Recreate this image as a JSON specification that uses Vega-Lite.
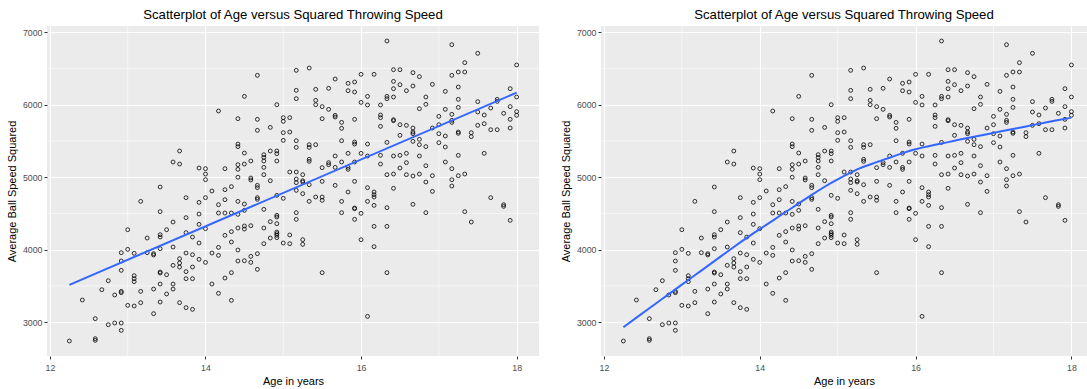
{
  "$schema": "https://vega.github.io/schema/vega-lite/v6.json",
  "background": "white",
  "padding": {"left": 6, "top": 7, "right": 0, "bottom": 0},
  "config": {
    "view": {"fill": "#EBEBEB", "stroke": null},
    "font": "Liberation Sans",
    "axis": {
      "domain": false,
      "grid": true,
      "gridColor": "#FFFFFF",
      "gridWidth": 1.1,
      "tickColor": "#333333",
      "tickSize": 3,
      "tickWidth": 1,
      "labelColor": "#4D4D4D",
      "labelFontSize": 8.8,
      "labelFont": "Liberation Sans",
      "titleFont": "Liberation Sans",
      "titleFontSize": 11,
      "titleFontWeight": "normal",
      "titleColor": "#000000",
      "format": "d"
    },
    "axisX": {"labelPadding": 4, "titlePadding": 4},
    "axisY": {"labelPadding": 2, "titlePadding": 5},
    "title": {"font": "Liberation Sans", "fontSize": 13.2, "fontWeight": "normal", "color": "#000000", "anchor": "middle", "offset": 4},
    "concat": {"spacing": 20}
  },
  "datasets": {
    "minorX": [{"age": 13}, {"age": 15}, {"age": 17}],
    "minorY": [{"speed": 3500}, {"speed": 4500}, {"speed": 5500}, {"speed": 6500}],
    "throws": [
      {"age": 12.25, "speed": 2740},
      {"age": 12.417, "speed": 3306},
      {"age": 12.583, "speed": 3048}, {"age": 12.583, "speed": 2772}, {"age": 12.583, "speed": 2749},
      {"age": 12.667, "speed": 3448},
      {"age": 12.75, "speed": 3572}, {"age": 12.75, "speed": 2965},
      {"age": 12.833, "speed": 3375}, {"age": 12.833, "speed": 2988},
      {"age": 12.917, "speed": 3959}, {"age": 12.917, "speed": 3844}, {"age": 12.917, "speed": 3715}, {"age": 12.917, "speed": 3425}, {"age": 12.917, "speed": 3407}, {"age": 12.917, "speed": 2988}, {"age": 12.917, "speed": 2887},
      {"age": 13, "speed": 4276}, {"age": 13, "speed": 4005}, {"age": 13, "speed": 3232},
      {"age": 13.083, "speed": 3950}, {"age": 13.083, "speed": 3641}, {"age": 13.083, "speed": 3600}, {"age": 13.083, "speed": 3559}, {"age": 13.083, "speed": 3223},
      {"age": 13.167, "speed": 4667}, {"age": 13.167, "speed": 3425}, {"age": 13.167, "speed": 3269},
      {"age": 13.25, "speed": 4161}, {"age": 13.25, "speed": 3959},
      {"age": 13.333, "speed": 3945}, {"age": 13.333, "speed": 3927}, {"age": 13.333, "speed": 3457}, {"age": 13.333, "speed": 3117},
      {"age": 13.417, "speed": 4865}, {"age": 13.417, "speed": 4525}, {"age": 13.417, "speed": 4207}, {"age": 13.417, "speed": 4175}, {"age": 13.417, "speed": 4014}, {"age": 13.417, "speed": 3692}, {"age": 13.417, "speed": 3678}, {"age": 13.417, "speed": 3526}, {"age": 13.417, "speed": 3278},
      {"age": 13.5, "speed": 4276}, {"age": 13.5, "speed": 3655}, {"age": 13.5, "speed": 3389},
      {"age": 13.583, "speed": 5210}, {"age": 13.583, "speed": 4382}, {"age": 13.583, "speed": 4037}, {"age": 13.583, "speed": 3784}, {"age": 13.583, "speed": 3526}, {"age": 13.583, "speed": 3457},
      {"age": 13.667, "speed": 5362}, {"age": 13.667, "speed": 5182}, {"age": 13.667, "speed": 3876}, {"age": 13.667, "speed": 3816}, {"age": 13.667, "speed": 3760}, {"age": 13.667, "speed": 3269},
      {"age": 13.75, "speed": 4718}, {"age": 13.75, "speed": 4442}, {"age": 13.75, "speed": 4235}, {"age": 13.75, "speed": 3954}, {"age": 13.75, "speed": 3697}, {"age": 13.75, "speed": 3600}, {"age": 13.75, "speed": 3200},
      {"age": 13.833, "speed": 4175}, {"age": 13.833, "speed": 3931}, {"age": 13.833, "speed": 3761}, {"age": 13.833, "speed": 3600}, {"age": 13.833, "speed": 3177},
      {"age": 13.917, "speed": 5127}, {"age": 13.917, "speed": 4653}, {"age": 13.917, "speed": 4492}, {"age": 13.917, "speed": 4350}, {"age": 13.917, "speed": 4092}, {"age": 13.917, "speed": 3867},
      {"age": 14, "speed": 5118}, {"age": 14, "speed": 5044}, {"age": 14, "speed": 4966}, {"age": 14, "speed": 4718}, {"age": 14, "speed": 4290}, {"age": 14, "speed": 3825},
      {"age": 14.083, "speed": 4810}, {"age": 14.083, "speed": 3954}, {"age": 14.083, "speed": 3526},
      {"age": 14.167, "speed": 5914}, {"age": 14.167, "speed": 4621}, {"age": 14.167, "speed": 4506}, {"age": 14.167, "speed": 4032}, {"age": 14.167, "speed": 3922}, {"age": 14.167, "speed": 3398},
      {"age": 14.25, "speed": 5118}, {"age": 14.25, "speed": 4828}, {"age": 14.25, "speed": 4690}, {"age": 14.25, "speed": 4506}, {"age": 14.25, "speed": 4198}, {"age": 14.25, "speed": 3609},
      {"age": 14.333, "speed": 4870}, {"age": 14.333, "speed": 4506}, {"age": 14.333, "speed": 4249}, {"age": 14.333, "speed": 4106}, {"age": 14.333, "speed": 3683}, {"age": 14.333, "speed": 3301},
      {"age": 14.417, "speed": 5808}, {"age": 14.417, "speed": 5458}, {"age": 14.417, "speed": 5422}, {"age": 14.417, "speed": 5173}, {"age": 14.417, "speed": 5109}, {"age": 14.417, "speed": 5000}, {"age": 14.417, "speed": 4667}, {"age": 14.417, "speed": 4488}, {"age": 14.417, "speed": 4299}, {"age": 14.417, "speed": 3996}, {"age": 14.417, "speed": 3844},
      {"age": 14.5, "speed": 6116}, {"age": 14.5, "speed": 5334}, {"age": 14.5, "speed": 5182}, {"age": 14.5, "speed": 4630}, {"age": 14.5, "speed": 4543}, {"age": 14.5, "speed": 4327}, {"age": 14.5, "speed": 4285}, {"age": 14.5, "speed": 3848},
      {"age": 14.583, "speed": 5224}, {"age": 14.583, "speed": 4989}, {"age": 14.583, "speed": 4962}, {"age": 14.583, "speed": 4331}, {"age": 14.583, "speed": 3908}, {"age": 14.583, "speed": 3825},
      {"age": 14.667, "speed": 6406}, {"age": 14.667, "speed": 5799}, {"age": 14.667, "speed": 5647}, {"age": 14.667, "speed": 4888}, {"age": 14.667, "speed": 4856}, {"age": 14.667, "speed": 4718}, {"age": 14.667, "speed": 4695}, {"age": 14.667, "speed": 3945}, {"age": 14.667, "speed": 3729},
      {"age": 14.75, "speed": 5311}, {"age": 14.75, "speed": 5274}, {"age": 14.75, "speed": 5224}, {"age": 14.75, "speed": 5136}, {"age": 14.75, "speed": 5035}, {"age": 14.75, "speed": 4557}, {"age": 14.75, "speed": 4299}, {"age": 14.75, "speed": 4083},
      {"age": 14.833, "speed": 5688}, {"age": 14.833, "speed": 5362}, {"age": 14.833, "speed": 4952}, {"age": 14.833, "speed": 4387}, {"age": 14.833, "speed": 4161},
      {"age": 14.917, "speed": 6001}, {"age": 14.917, "speed": 5362}, {"age": 14.917, "speed": 5325}, {"age": 14.917, "speed": 5224}, {"age": 14.917, "speed": 4750}, {"age": 14.917, "speed": 4474}, {"age": 14.917, "speed": 4451}, {"age": 14.917, "speed": 4359}, {"age": 14.917, "speed": 4244}, {"age": 14.917, "speed": 4221}, {"age": 14.917, "speed": 4198}, {"age": 14.917, "speed": 4166},
      {"age": 15, "speed": 5822}, {"age": 15, "speed": 5771}, {"age": 15, "speed": 5615}, {"age": 15, "speed": 5509}, {"age": 15, "speed": 4709}, {"age": 15, "speed": 4092},
      {"age": 15.083, "speed": 5822}, {"age": 15.083, "speed": 5624}, {"age": 15.083, "speed": 5072}, {"age": 15.083, "speed": 4203}, {"age": 15.083, "speed": 4083},
      {"age": 15.167, "speed": 6475}, {"age": 15.167, "speed": 6199}, {"age": 15.167, "speed": 6084}, {"age": 15.167, "speed": 5504}, {"age": 15.167, "speed": 5412}, {"age": 15.167, "speed": 5072}, {"age": 15.167, "speed": 4975}, {"age": 15.167, "speed": 4925}, {"age": 15.167, "speed": 4819}, {"age": 15.167, "speed": 4511}, {"age": 15.167, "speed": 4419},
      {"age": 15.25, "speed": 5035}, {"age": 15.25, "speed": 4952}, {"age": 15.25, "speed": 4934}, {"age": 15.25, "speed": 4773}, {"age": 15.25, "speed": 4138}, {"age": 15.25, "speed": 4074},
      {"age": 15.333, "speed": 6507}, {"age": 15.333, "speed": 5449}, {"age": 15.333, "speed": 5412}, {"age": 15.333, "speed": 5247}, {"age": 15.333, "speed": 5219}, {"age": 15.333, "speed": 4897}, {"age": 15.333, "speed": 4667},
      {"age": 15.417, "speed": 6213}, {"age": 15.417, "speed": 6061}, {"age": 15.417, "speed": 6001}, {"age": 15.417, "speed": 5449}, {"age": 15.417, "speed": 4727},
      {"age": 15.5, "speed": 5974}, {"age": 15.5, "speed": 5808}, {"age": 15.5, "speed": 5132}, {"age": 15.5, "speed": 4943}, {"age": 15.5, "speed": 4727}, {"age": 15.5, "speed": 4681}, {"age": 15.5, "speed": 3683},
      {"age": 15.583, "speed": 6227}, {"age": 15.583, "speed": 5937}, {"age": 15.583, "speed": 5201}, {"age": 15.583, "speed": 5173},
      {"age": 15.667, "speed": 6355}, {"age": 15.667, "speed": 5854}, {"age": 15.667, "speed": 5831}, {"age": 15.667, "speed": 5293}, {"age": 15.667, "speed": 5136}, {"age": 15.667, "speed": 4888},
      {"age": 15.75, "speed": 5757}, {"age": 15.75, "speed": 5675}, {"age": 15.75, "speed": 5504}, {"age": 15.75, "speed": 5210}, {"age": 15.75, "speed": 4667}, {"age": 15.75, "speed": 4511},
      {"age": 15.833, "speed": 6296}, {"age": 15.833, "speed": 6194}, {"age": 15.833, "speed": 5330}, {"age": 15.833, "speed": 5136}, {"age": 15.833, "speed": 5109}, {"age": 15.833, "speed": 4796},
      {"age": 15.917, "speed": 6314}, {"age": 15.917, "speed": 6176}, {"age": 15.917, "speed": 5799}, {"age": 15.917, "speed": 5486}, {"age": 15.917, "speed": 5458}, {"age": 15.917, "speed": 5210}, {"age": 15.917, "speed": 4943}, {"age": 15.917, "speed": 4575}, {"age": 15.917, "speed": 4566}, {"age": 15.917, "speed": 4419},
      {"age": 16, "speed": 6420}, {"age": 16, "speed": 6033}, {"age": 16, "speed": 5330}, {"age": 16, "speed": 4502}, {"age": 16, "speed": 4138},
      {"age": 16.083, "speed": 6116}, {"age": 16.083, "speed": 5997}, {"age": 16.083, "speed": 5458}, {"age": 16.083, "speed": 5293}, {"age": 16.083, "speed": 4856}, {"age": 16.083, "speed": 4667}, {"age": 16.083, "speed": 3080},
      {"age": 16.167, "speed": 6420}, {"age": 16.167, "speed": 4796}, {"age": 16.167, "speed": 4759}, {"age": 16.167, "speed": 4727}, {"age": 16.167, "speed": 4612}, {"age": 16.167, "speed": 4322}, {"age": 16.167, "speed": 4042},
      {"age": 16.25, "speed": 5997}, {"age": 16.25, "speed": 5859}, {"age": 16.25, "speed": 5822}, {"age": 16.25, "speed": 5702}, {"age": 16.25, "speed": 5302}, {"age": 16.25, "speed": 5182},
      {"age": 16.333, "speed": 6880}, {"age": 16.333, "speed": 6116}, {"age": 16.333, "speed": 6084}, {"age": 16.333, "speed": 5481}, {"age": 16.333, "speed": 5035}, {"age": 16.333, "speed": 4580}, {"age": 16.333, "speed": 4322}, {"age": 16.333, "speed": 3683},
      {"age": 16.417, "speed": 6484}, {"age": 16.417, "speed": 6323}, {"age": 16.417, "speed": 6222}, {"age": 16.417, "speed": 6107}, {"age": 16.417, "speed": 5794}, {"age": 16.417, "speed": 5780}, {"age": 16.417, "speed": 5293}, {"age": 16.417, "speed": 5044}, {"age": 16.417, "speed": 4847},
      {"age": 16.5, "speed": 6484}, {"age": 16.5, "speed": 6277}, {"age": 16.5, "speed": 5725}, {"age": 16.5, "speed": 5578}, {"age": 16.5, "speed": 5302}, {"age": 16.5, "speed": 5127},
      {"age": 16.583, "speed": 6194}, {"age": 16.583, "speed": 5716}, {"age": 16.583, "speed": 5330}, {"age": 16.583, "speed": 5201}, {"age": 16.583, "speed": 5035},
      {"age": 16.667, "speed": 6443}, {"age": 16.667, "speed": 6259}, {"age": 16.667, "speed": 5679}, {"age": 16.667, "speed": 5624}, {"age": 16.667, "speed": 5601}, {"age": 16.667, "speed": 5495}, {"age": 16.667, "speed": 5017}, {"age": 16.667, "speed": 4626},
      {"age": 16.75, "speed": 6388}, {"age": 16.75, "speed": 5946}, {"age": 16.75, "speed": 5523}, {"age": 16.75, "speed": 5449}, {"age": 16.75, "speed": 5293}, {"age": 16.75, "speed": 5044},
      {"age": 16.833, "speed": 6107}, {"age": 16.833, "speed": 6006}, {"age": 16.833, "speed": 5422}, {"age": 16.833, "speed": 5159}, {"age": 16.833, "speed": 4934}, {"age": 16.833, "speed": 4511},
      {"age": 16.917, "speed": 6282}, {"age": 16.917, "speed": 5679}, {"age": 16.917, "speed": 5021}, {"age": 16.917, "speed": 4805},
      {"age": 17, "speed": 5840}, {"age": 17, "speed": 5725}, {"age": 17, "speed": 5601}, {"age": 17, "speed": 5477},
      {"age": 17.083, "speed": 6185}, {"age": 17.083, "speed": 5937}, {"age": 17.083, "speed": 5569}, {"age": 17.083, "speed": 5417}, {"age": 17.083, "speed": 5210},
      {"age": 17.167, "speed": 6829}, {"age": 17.167, "speed": 6406}, {"age": 17.167, "speed": 5868}, {"age": 17.167, "speed": 5785}, {"age": 17.167, "speed": 5757}, {"age": 17.167, "speed": 5118}, {"age": 17.167, "speed": 4966}, {"age": 17.167, "speed": 4879},
      {"age": 17.25, "speed": 6452}, {"age": 17.25, "speed": 6245}, {"age": 17.25, "speed": 6075}, {"age": 17.25, "speed": 5964}, {"age": 17.25, "speed": 5624}, {"age": 17.25, "speed": 5606}, {"age": 17.25, "speed": 5302}, {"age": 17.25, "speed": 5021},
      {"age": 17.333, "speed": 6581}, {"age": 17.333, "speed": 6452}, {"age": 17.333, "speed": 5044}, {"age": 17.333, "speed": 4525},
      {"age": 17.417, "speed": 5615}, {"age": 17.417, "speed": 5560}, {"age": 17.417, "speed": 4382},
      {"age": 17.5, "speed": 6710}, {"age": 17.5, "speed": 6043}, {"age": 17.5, "speed": 5900}, {"age": 17.5, "speed": 5716},
      {"age": 17.583, "speed": 5859}, {"age": 17.583, "speed": 5739}, {"age": 17.583, "speed": 5330},
      {"age": 17.667, "speed": 5955}, {"age": 17.667, "speed": 5656}, {"age": 17.667, "speed": 4718},
      {"age": 17.75, "speed": 6075}, {"age": 17.75, "speed": 6047}, {"age": 17.75, "speed": 5656},
      {"age": 17.833, "speed": 5882}, {"age": 17.833, "speed": 4621}, {"age": 17.833, "speed": 4598},
      {"age": 17.917, "speed": 6222}, {"age": 17.917, "speed": 5974}, {"age": 17.917, "speed": 5799}, {"age": 17.917, "speed": 5679}, {"age": 17.917, "speed": 4405},
      {"age": 18, "speed": 6549}, {"age": 18, "speed": 6107}, {"age": 18, "speed": 5905}, {"age": 18, "speed": 5855}
    ]
  },
  "hconcat": [
    {
      "width": 492,
      "height": 330,
      "title": "Scatterplot of Age versus Squared Throwing Speed",
      "layer": [
        {
          "data": {"name": "minorX"},
          "mark": {"type": "rule", "color": "#FFFFFF", "strokeWidth": 0.55},
          "encoding": {
            "x": {"field": "age", "type": "quantitative", "title": "Age in years", "scale": {"domain": [11.9625, 18.2875], "nice": false, "zero": false}}
          }
        },
        {
          "data": {"name": "minorY"},
          "mark": {"type": "rule", "color": "#FFFFFF", "strokeWidth": 0.55},
          "encoding": {
            "y": {"field": "speed", "type": "quantitative", "title": "Average Ball Speed Squared", "scale": {"domain": [2533, 7087], "nice": false, "zero": false}}
          }
        },
        {
          "data": {"name": "throws"},
          "mark": {"type": "point", "shape": "circle", "filled": false, "stroke": "#000000", "strokeWidth": 0.8, "size": 15, "opacity": 1},
          "encoding": {
            "x": {"field": "age", "type": "quantitative", "title": "Age in years", "scale": {"domain": [11.9625, 18.2875], "nice": false, "zero": false}, "axis": {"values": [12, 14, 16, 18]}},
            "y": {"field": "speed", "type": "quantitative", "title": "Average Ball Speed Squared", "scale": {"domain": [2533, 7087], "nice": false, "zero": false}, "axis": {"values": [3000, 4000, 5000, 6000, 7000]}}
          }
        },
        {
          "data": {"name": "throws"},
          "transform": [{"regression": "speed", "on": "age", "method": "linear"}],
          "mark": {"type": "line", "color": "#3366FF", "strokeWidth": 2},
          "encoding": {
            "x": {"field": "age", "type": "quantitative", "title": "Age in years", "scale": {"domain": [11.9625, 18.2875], "nice": false, "zero": false}},
            "y": {"field": "speed", "type": "quantitative", "title": "Average Ball Speed Squared", "scale": {"domain": [2533, 7087], "nice": false, "zero": false}}
          }
        }
      ]
    },
    {
      "width": 486,
      "height": 330,
      "title": "Scatterplot of Age versus Squared Throwing Speed",
      "layer": [
        {
          "data": {"name": "minorX"},
          "mark": {"type": "rule", "color": "#FFFFFF", "strokeWidth": 0.55},
          "encoding": {
            "x": {"field": "age", "type": "quantitative", "title": "Age in years", "scale": {"domain": [11.9625, 18.2], "nice": false, "zero": false}}
          }
        },
        {
          "data": {"name": "minorY"},
          "mark": {"type": "rule", "color": "#FFFFFF", "strokeWidth": 0.55},
          "encoding": {
            "y": {"field": "speed", "type": "quantitative", "title": "Average Ball Speed Squared", "scale": {"domain": [2533, 7087], "nice": false, "zero": false}}
          }
        },
        {
          "data": {"name": "throws"},
          "mark": {"type": "point", "shape": "circle", "filled": false, "stroke": "#000000", "strokeWidth": 0.8, "size": 15, "opacity": 1},
          "encoding": {
            "x": {"field": "age", "type": "quantitative", "title": "Age in years", "scale": {"domain": [11.9625, 18.2], "nice": false, "zero": false}, "axis": {"values": [12, 14, 16, 18]}},
            "y": {"field": "speed", "type": "quantitative", "title": "Average Ball Speed Squared", "scale": {"domain": [2533, 7087], "nice": false, "zero": false}, "axis": {"values": [3000, 4000, 5000, 6000, 7000]}}
          }
        },
        {
          "data": {"name": "throws"},
          "transform": [{"loess": "speed", "on": "age", "bandwidth": 0.5}],
          "mark": {"type": "line", "color": "#3366FF", "strokeWidth": 2},
          "encoding": {
            "x": {"field": "age", "type": "quantitative", "title": "Age in years", "scale": {"domain": [11.9625, 18.2], "nice": false, "zero": false}},
            "y": {"field": "speed", "type": "quantitative", "title": "Average Ball Speed Squared", "scale": {"domain": [2533, 7087], "nice": false, "zero": false}}
          }
        }
      ]
    }
  ]
}
